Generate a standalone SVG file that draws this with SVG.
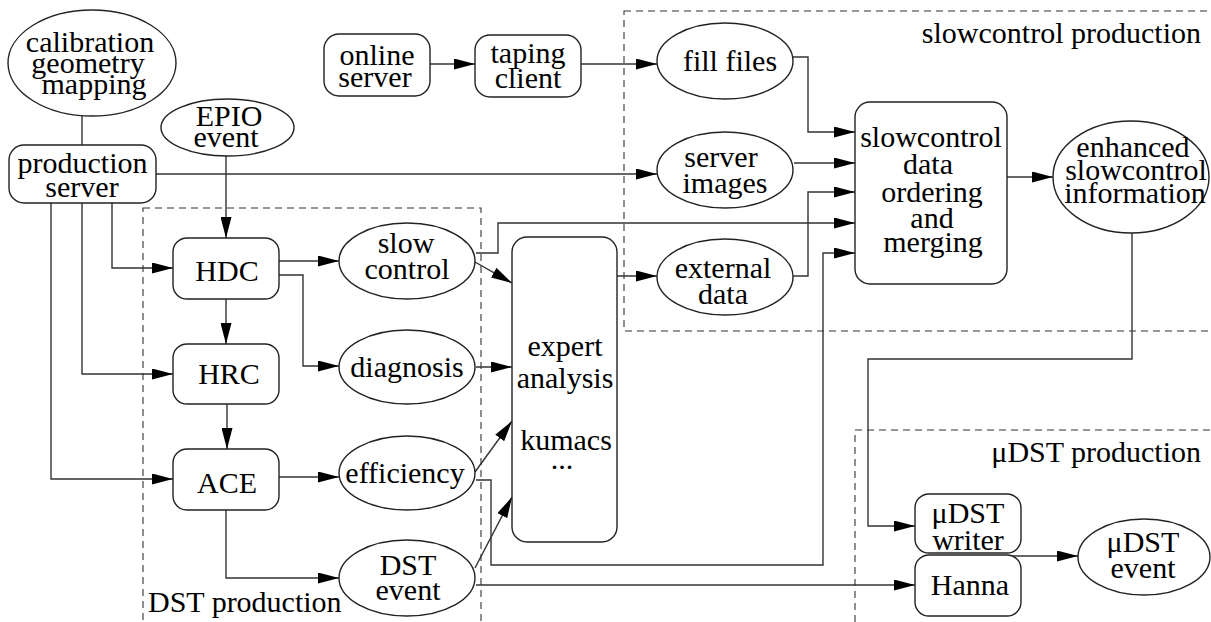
<svg xmlns="http://www.w3.org/2000/svg" width="1211" height="622" viewBox="0 0 1211 622">
<defs>
<style>
text{font-family:'Liberation Serif','Times New Roman',serif;font-size:30px;fill:#000}
.t{text-anchor:middle}
.n{fill:#fff;stroke:#222;stroke-width:1.4}
.c{fill:none;stroke:#333;stroke-width:1.4}
.a{marker-end:url(#ah)}
.cl{fill:none;stroke:#333;stroke-width:1.1;stroke-dasharray:7 5}
</style>
<marker id="ah" markerUnits="userSpaceOnUse" markerWidth="21" markerHeight="11" refX="21" refY="5.5" orient="auto">
<path d="M0,0 L21,5.5 L0,11 z" fill="#000"/>
</marker>
</defs>
<rect width="1211" height="622" fill="#fff"/>
<g id="clusters">
<rect class="cl" x="143" y="208" width="338" height="420"/>
<text x="148" y="612">DST production</text>
<rect class="cl" x="624" y="11" width="600" height="320"/>
<text x="1201" y="43" text-anchor="end">slowcontrol production</text>
<rect class="cl" x="855" y="430" width="370" height="200"/>
<text x="1201" y="462" text-anchor="end">μDST production</text>
</g>

<g id="connectors">
<path class="c" d="M82,116 V145"/>
<path class="c a" d="M156,174 H657"/>
<path class="c a" d="M112,203 V268 H173"/>
<path class="c a" d="M82,203 V374 H173"/>
<path class="c a" d="M51,203 V479 H173"/>
<path class="c a" d="M226,156 V238"/>
<path class="c a" d="M226,299 V344"/>
<path class="c a" d="M227,404 V449"/>
<path class="c a" d="M279,261 H339"/>
<path class="c a" d="M279,275 H303 V366 H339"/>
<path class="c a" d="M279,477 H339"/>
<path class="c a" d="M226,510 V578 H339"/>
<path class="c a" d="M475,262 L512,283"/>
<path class="c a" d="M476,253 H498 V223 H855"/>
<path class="c a" d="M476,367 H512"/>
<path class="c a" d="M475,472 L512,421"/>
<path class="c a" d="M476,480 H491 V565 H823 V253 H855"/>
<path class="c a" d="M475,568 L512,497"/>
<path class="c a" d="M476,585 H915"/>
<path class="c a" d="M617,276 H657"/>
<path class="c a" d="M430,64 H475"/>
<path class="c a" d="M581,64 H657"/>
<path class="c a" d="M793,57 H808 V132 H855"/>
<path class="c a" d="M794,163 H855"/>
<path class="c a" d="M793,276 H808 V192 H855"/>
<path class="c a" d="M1007,177 H1053"/>
<path class="c a" d="M1132,233 V359 H868 V526 H915"/>
<path class="c a" d="M1008,556 H1078"/>
</g>

<g id="calibration">
<ellipse class="n" cx="92" cy="63" rx="84" ry="53"/>
<text class="t" x="90" y="52">calibration</text>
<text class="t" x="88" y="73">geometry</text>
<text class="t" x="94" y="94">mapping</text>
</g>
<g id="epio">
<ellipse class="n" cx="227.5" cy="127.5" rx="66.5" ry="28.5"/>
<text class="t" x="229" y="126">EPIO</text>
<text class="t" x="226" y="147">event</text>
</g>
<g id="production-server">
<rect class="n" x="9" y="145" width="147" height="58" rx="15"/>
<text class="t" x="82.5" y="173">production</text>
<text class="t" x="82" y="197">server</text>
</g>
<g id="online-server">
<rect class="n" x="324" y="34" width="106" height="62" rx="15"/>
<text class="t" x="377" y="65">online</text>
<text class="t" x="375" y="87">server</text>
</g>
<g id="taping-client">
<rect class="n" x="475" y="35" width="106" height="62" rx="15"/>
<text class="t" x="528" y="63">taping</text>
<text class="t" x="528" y="88">client</text>
</g>
<g id="hdc">
<rect class="n" x="173" y="238" width="106" height="61" rx="14"/>
<text class="t" x="227" y="281">HDC</text>
</g>
<g id="hrc">
<rect class="n" x="173" y="344" width="106" height="60" rx="14"/>
<text class="t" x="229" y="384">HRC</text>
</g>
<g id="ace">
<rect class="n" x="173" y="449" width="106" height="61" rx="14"/>
<text class="t" x="227" y="493">ACE</text>
</g>
<g id="slow-control">
<ellipse class="n" cx="407" cy="261" rx="68" ry="38"/>
<text class="t" x="406" y="253">slow</text>
<text class="t" x="407" y="279">control</text>
</g>
<g id="diagnosis">
<ellipse class="n" cx="407" cy="367" rx="68" ry="37"/>
<text class="t" x="407" y="377">diagnosis</text>
</g>
<g id="efficiency">
<ellipse class="n" cx="407" cy="473" rx="68" ry="37"/>
<text class="t" x="405" y="483">efficiency</text>
</g>
<g id="dst-event">
<ellipse class="n" cx="407" cy="578" rx="68" ry="38"/>
<text class="t" x="408" y="575">DST</text>
<text class="t" x="408" y="600">event</text>
</g>
<g id="expert">
<rect class="n" x="512" y="237" width="105" height="305" rx="15"/>
<text class="t" x="565" y="356">expert</text>
<text class="t" x="565" y="388">analysis</text>
<text class="t" x="566" y="450">kumacs</text>
<text class="t" x="562" y="469">...</text>
</g>
<g id="fill-files">
<ellipse class="n" cx="725" cy="61" rx="68" ry="38"/>
<text class="t" x="730" y="71">fill files</text>
</g>
<g id="server-images">
<ellipse class="n" cx="725" cy="170" rx="68" ry="38"/>
<text class="t" x="721" y="167">server</text>
<text class="t" x="725" y="193">images</text>
</g>
<g id="external-data">
<ellipse class="n" cx="725" cy="277" rx="68" ry="38"/>
<text class="t" x="723" y="278">external</text>
<text class="t" x="723" y="304">data</text>
</g>
<g id="merging">
<rect class="n" x="855" y="102" width="152" height="182" rx="15"/>
<text class="t" x="931" y="147">slowcontrol</text>
<text class="t" x="928" y="174">data</text>
<text class="t" x="932" y="202">ordering</text>
<text class="t" x="932" y="228">and</text>
<text class="t" x="933" y="252">merging</text>
</g>
<g id="enhanced">
<ellipse class="n" cx="1131" cy="177" rx="78" ry="56"/>
<text class="t" x="1133" y="157">enhanced</text>
<text class="t" x="1136" y="180">slowcontrol</text>
<text class="t" x="1135" y="203">information</text>
</g>
<g id="udst-writer">
<rect class="n" x="915" y="494" width="106" height="59" rx="14"/>
<text class="t" x="968" y="523">μDST</text>
<text class="t" x="968" y="550">writer</text>
</g>
<g id="hanna">
<rect class="n" x="915" y="555" width="106" height="61" rx="14"/>
<text class="t" x="970" y="595">Hanna</text>
</g>
<g id="udst-event">
<ellipse class="n" cx="1144" cy="557" rx="66" ry="38"/>
<text class="t" x="1143" y="552">μDST</text>
<text class="t" x="1143" y="578">event</text>
</g>
</svg>
